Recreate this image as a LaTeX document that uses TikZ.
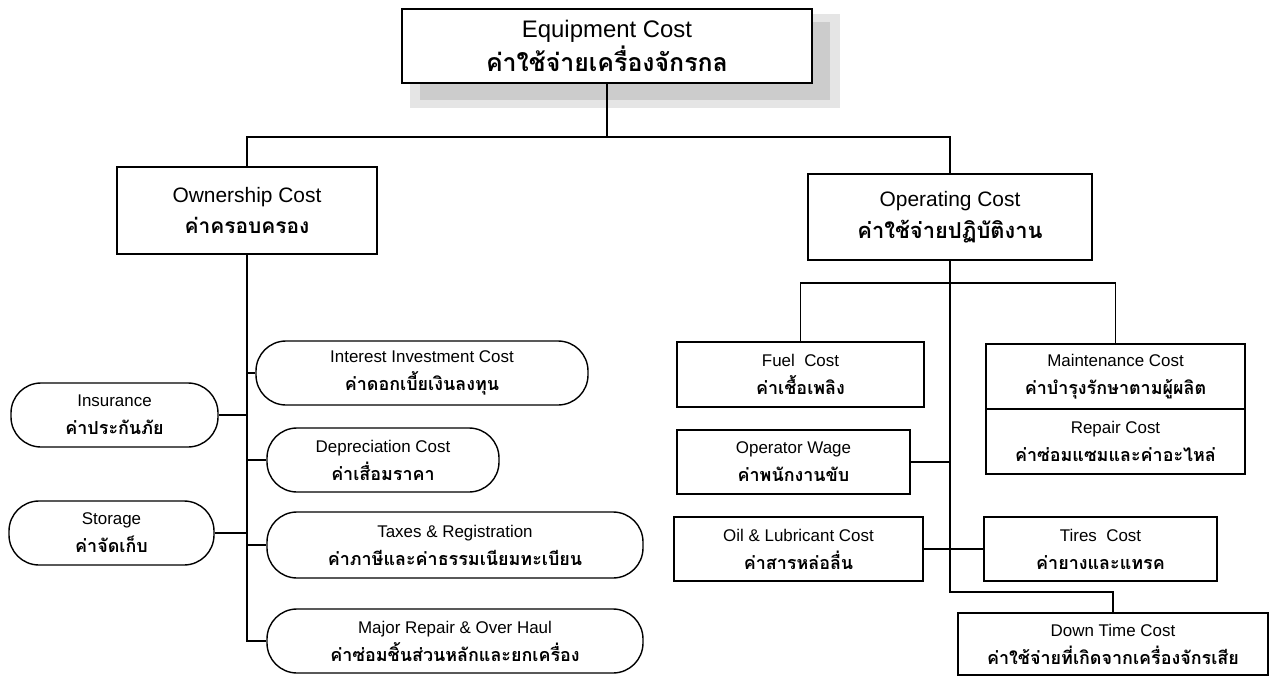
\documentclass[tikz,border=0pt]{standalone}
\usepackage{fontspec}
\setmainfont{Liberation Sans}
\newfontfamily\thai[Script=Thai]{Loma}
\tikzset{
  box/.style={draw, line width=1.4bp, fill=white, align=center, inner sep=0pt},
  pill/.style={box, rounded corners=30bp},
  conn/.style={line width=1.4bp},
  big/.style={font=\fontsize{24}{34}\selectfont},
  mid/.style={font=\fontsize{21}{32}\selectfont},
  sml/.style={font=\fontsize{17}{28}\selectfont},
}
\newcommand{\thtxt}[2]{{\thai\bfseries\fontsize{#1}{#1}\selectfont #2}}
\begin{document}
\begin{tikzpicture}[x=1bp,y=-1bp]
\useasboundingbox (0,0) rectangle (1275,677);
% shadow of title box
\fill[gray!20] (410,14) rectangle (840,108);
\fill[gray!40] (420,22) rectangle (830,100);
% nodes
\node[box,big,minimum width=410bp,minimum height=74bp] (top) at (607,46) {Equipment Cost\\\thtxt{25}{ค่าใช้จ่ายเครื่องจักรกล}};
\node[box,mid,minimum width=260bp,minimum height=87bp] (own) at (247,210.5) {Ownership Cost\\\thtxt{21}{ค่าครอบครอง}};
\node[box,mid,minimum width=284bp,minimum height=86bp] (opr) at (950,217) {Operating Cost\\\thtxt{22}{ค่าใช้จ่ายปฏิบัติงาน}};
% operating children
\node[box,sml,minimum width=247bp,minimum height=65bp] (fuel) at (800.5,374.5) {Fuel\ \ Cost\\\thtxt{18}{ค่าเชื้อเพลิง}};
\node[box,sml,minimum width=259bp,minimum height=65bp] (maint) at (1115.5,376.5) {Maintenance Cost\\\thtxt{18}{ค่าบำรุงรักษาตามผู้ผลิต}};
\node[box,sml,minimum width=259bp,minimum height=65bp] (repair) at (1115.5,441.5) {Repair Cost\\\thtxt{18}{ค่าซ่อมแซมและค่าอะไหล่}};
\node[box,sml,minimum width=233bp,minimum height=64bp] (wage) at (793.5,462) {Operator Wage\\\thtxt{18}{ค่าพนักงานขับ}};
\node[box,sml,minimum width=249bp,minimum height=64bp] (oil) at (798.5,549) {Oil \& Lubricant Cost\\\thtxt{18}{ค่าสารหล่อลื่น}};
\node[box,sml,minimum width=233bp,minimum height=64bp] (tires) at (1100.5,549) {Tires\ \ Cost\\\thtxt{18}{ค่ายางและแทรค}};
\node[box,sml,minimum width=310bp,minimum height=62bp] (down) at (1113,644) {Down Time Cost\\\thtxt{18}{ค่าใช้จ่ายที่เกิดจากเครื่องจักรเสีย}};
% ownership children
\node[pill,sml,minimum width=207bp,minimum height=64bp] (ins) at (114.5,415) {Insurance\\\thtxt{18}{ค่าประกันภัย}};
\node[pill,sml,minimum width=205bp,minimum height=64bp] (stor) at (111.5,533) {Storage\\\thtxt{18}{ค่าจัดเก็บ}};
\node[pill,sml,minimum width=332bp,minimum height=64bp] (int) at (422,373) {Interest Investment Cost\\\thtxt{18}{ค่าดอกเบี้ยเงินลงทุน}};
\node[pill,sml,minimum width=232bp,minimum height=64bp] (dep) at (383,460) {Depreciation Cost\\\thtxt{18}{ค่าเสื่อมราคา}};
\node[pill,sml,minimum width=376bp,minimum height=66bp] (tax) at (455,545) {Taxes \& Registration\\\thtxt{18}{ค่าภาษีและค่าธรรมเนียมทะเบียน}};
\node[pill,sml,minimum width=376bp,minimum height=64bp] (maj) at (455,641) {Major Repair \& Over Haul\\\thtxt{18}{ค่าซ่อมชิ้นส่วนหลักและยกเครื่อง}};
% junction coordinates
\coordinate (bus) at (607,137);
\coordinate (fb) at (950,283);
\coordinate (dj) at (950,592);
% connectors
\draw[conn] (top.south) -- (bus);
\draw[conn] (own.north) |- (bus) -| (opr.north);
\draw[conn] (own.south) |- (maj.west);
\draw[conn] (ins.east) -- (ins.east -| own.south);
\draw[conn] (stor.east) -- (stor.east -| own.south);
\draw[conn] (int.west) -- (int.west -| own.south);
\draw[conn] (dep.west) -- (dep.west -| own.south);
\draw[conn] (tax.west) -- (tax.west -| own.south);
\draw[conn] (opr.south) -- (dj) -| (down.north);
\draw[conn] (fuel.north) |- (fb) -| (maint.north);
\draw[conn] (wage.east) -- (wage.east -| opr.south);
\draw[conn] (oil.east) -- (tires.west);
\end{tikzpicture}
\end{document}
